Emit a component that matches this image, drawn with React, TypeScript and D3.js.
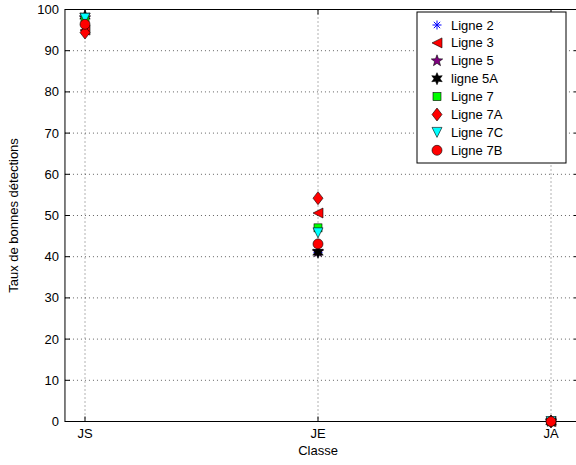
import React from "react";
import * as d3 from "d3";

const categories = ["JS", "JE", "JA"];
const seriesNames = ["Ligne 2", "Ligne 3", "Ligne 5", "ligne 5A", "Ligne 7", "Ligne 7A", "Ligne 7C", "Ligne 7B"];
const ligne2 = [98.3, 41.0, 0];
const ligne3 = [95.0, 50.6, 0];
const ligne5 = [98.0, 41.2, 0];
const ligne5A = [98.4, 41.1, 0];
const ligne7 = [97.8, 47.0, 0];
const ligne7A = [94.4, 54.2, 0];
const ligne7C = [97.9, 45.8, 0];
const ligne7B = [96.4, 43.1, 0];
const yTicks = [0, 10, 20, 30, 40, 50, 60, 70, 80, 90, 100];

const allSeries = [ligne2, ligne3, ligne5, ligne5A, ligne7, ligne7A, ligne7C, ligne7B];

const W = 576, H = 465;
const top = 9.5, bottom = 421.5;

const x = d3.scaleLinear().domain([1, 3]).range([85, 551]);
const xMin = 0.914, xMax = 3.12;
const y = d3.scaleLinear().domain([0, 100]).range([bottom, top]);

function starPath(n: number, rOuter: number, rInner: number, rot = -Math.PI / 2) {
  const pts: [number, number][] = [];
  for (let i = 0; i < 2 * n; i++) {
    const r = i % 2 === 0 ? rOuter : rInner;
    const a = rot + (i * Math.PI) / n;
    pts.push([r * Math.cos(a), r * Math.sin(a)]);
  }
  return "M" + pts.map((p) => p.join(",")).join("L") + "Z";
}

function triPath(dir: "left" | "down", r: number) {
  if (dir === "left") return `M${-r},0L${r},${-r}L${r},${r}Z`;
  return `M${-r},${-r}L${r},${-r}L0,${r}Z`;
}

function Marker({ i, cx, cy }: { i: number; cx: number; cy: number }) {
  const t = `translate(${cx},${cy})`;
  const edge = "#000";
  switch (i) {
    case 0: {
      const r = 4.5;
      const d = [0, 45, 90, 135]
        .map((deg) => {
          const a = (deg * Math.PI) / 180;
          return `M${-r * Math.cos(a)},${-r * Math.sin(a)}L${r * Math.cos(a)},${r * Math.sin(a)}`;
        })
        .join("");
      return <path transform={t} d={d} stroke="#0000ff" strokeWidth={1} fill="none" />;
    }
    case 1:
      return <path transform={t} d={triPath("left", 5)} fill="#ff0000" stroke={edge} strokeWidth={0.6} />;
    case 2:
      return <path transform={t} d={starPath(5, 6, 2.5)} fill="#800080" stroke={edge} strokeWidth={0.6} />;
    case 3:
      return <path transform={t} d={starPath(6, 6, 3)} fill="#000" stroke={edge} strokeWidth={0.6} />;
    case 4:
      return <rect transform={t} x={-4} y={-4} width={8} height={8} fill="#00ff00" stroke={edge} strokeWidth={0.6} />;
    case 5:
      return <path transform={t} d="M0,-6.5L5,0L0,6.5L-5,0Z" fill="#ff0000" stroke={edge} strokeWidth={0.6} />;
    case 6:
      return <path transform={t} d={triPath("down", 5)} fill="#00ffff" stroke={edge} strokeWidth={0.6} />;
    default:
      return <circle cx={cx} cy={cy} r={5} fill="#ff0000" stroke={edge} strokeWidth={0.6} />;
  }
}

export default function App() {
  const xl = x(xMin), xr = x(xMax);
  const font = "'Liberation Sans', Arial, Helvetica, sans-serif";
  const legX = 417, legY = 12, legW = 149, legH = 151;
  return (
    <svg width={W} height={H} style={{ position: "absolute", left: 0, top: 0, background: "#fff" }} fontFamily={font}>
      <rect x={0} y={0} width={W} height={H} fill="#fff" />
      <rect x={xl} y={top} width={xr - xl} height={bottom - top} fill="#fff" />
      {yTicks.map((v) => (
        <line key={"gy" + v} x1={xl} x2={xr} y1={y(v)} y2={y(v)} stroke="#000" strokeWidth={1} strokeDasharray="1,3" opacity={0.6} />
      ))}
      {categories.map((c, i) => (
        <line key={"gx" + c} x1={x(i + 1)} x2={x(i + 1)} y1={top} y2={bottom} stroke="#000" strokeWidth={1} strokeDasharray="1,3" opacity={0.6} />
      ))}
      {yTicks.map((v) => (
        <g key={"ty" + v}>
          <line x1={xl} x2={xl + 5} y1={y(v)} y2={y(v)} stroke="#000" />
          <line x1={xr} x2={xr - 5} y1={y(v)} y2={y(v)} stroke="#000" />
          <text x={xl - 6} y={y(v)} textAnchor="end" dominantBaseline="central" fontSize={13}>{v}</text>
        </g>
      ))}
      {categories.map((c, i) => (
        <g key={"tx" + c}>
          <line x1={x(i + 1)} x2={x(i + 1)} y1={bottom} y2={bottom - 5} stroke="#000" />
          <line x1={x(i + 1)} x2={x(i + 1)} y1={top} y2={top + 5} stroke="#000" />
          <text x={x(i + 1)} y={bottom + 16} textAnchor="middle" fontSize={13}>{c}</text>
        </g>
      ))}
      <rect x={xl} y={top} width={xr - xl} height={bottom - top} fill="none" stroke="#000" strokeWidth={1} />
      {allSeries.map((s, si) => (
        <g key={"s" + si}>
          {s.map((v, ci) => (
            <Marker key={ci} i={si} cx={x(ci + 1)} cy={y(v)} />
          ))}
        </g>
      ))}
      <text x={x(2)} y={bottom + 33} textAnchor="middle" fontSize={13}>Classe</text>
      <text transform={`translate(18,${(top + bottom) / 2}) rotate(-90)`} textAnchor="middle" fontSize={13}>Taux de bonnes détections</text>
      <rect x={legX} y={legY} width={legW} height={legH} fill="#fff" stroke="#000" strokeWidth={1} />
      {seriesNames.map((n, i) => {
        const cy = 25 + i * 17.9;
        return (
          <g key={"l" + n}>
            <Marker i={i} cx={437} cy={cy} />
            <text x={451} y={cy} dominantBaseline="central" fontSize={13}>{n}</text>
          </g>
        );
      })}
    </svg>
  );
}
